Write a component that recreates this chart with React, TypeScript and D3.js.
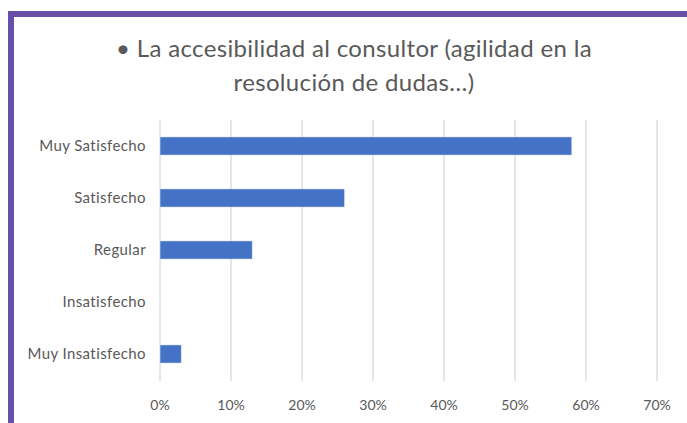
import { useEffect, useRef } from 'react'
import * as d3 from 'd3'

const categories = ['Muy Satisfecho', 'Satisfecho', 'Regular', 'Insatisfecho', 'Muy Insatisfecho']
const values = [0.58, 0.26, 0.13, 0, 0.03]
const ticks = [0, 0.1, 0.2, 0.3, 0.4, 0.5, 0.6, 0.7]
const titleLines = ['• La accesibilidad al consultor (agilidad en la', 'resolución de dudas…)']

export default function App() {
  const svgRef = useRef<SVGSVGElement>(null)

  useEffect(() => {
    const width = 687
    const height = 423
    const svg = d3.select(svgRef.current)
    svg.selectAll('*').remove()
    svg.attr('width', width).attr('height', height)

    const font = 'Lato, "Open Sans", sans-serif'
    const grey = '#595959'

    svg.append('rect').attr('width', width).attr('height', height).attr('fill', '#fff')

    // purple frame (top + left)
    svg.append('rect').attr('x', 8).attr('y', 11).attr('width', width - 8).attr('height', 6).attr('fill', '#6a4fa8')
    svg.append('rect').attr('x', 8).attr('y', 11).attr('width', 6).attr('height', height - 11).attr('fill', '#6a4fa8')

    // title
    svg.append('g')
      .selectAll('text')
      .data(titleLines)
      .enter()
      .append('text')
      .attr('x', 354)
      .attr('y', (d, i) => 57 + i * 34)
      .attr('text-anchor', 'middle')
      .attr('font-family', font)
      .attr('font-size', '24px')
      .attr('letter-spacing', '0.35px')
      .attr('fill', grey)
      .text(d => d)

    const x = d3.scaleLinear().domain([0, 0.7]).range([160, 657])
    const y = d3.scaleBand().domain(categories).range([120, 380]).paddingInner(0.65).paddingOuter(0.325)

    // gridlines
    svg.append('g')
      .selectAll('line')
      .data(ticks)
      .enter()
      .append('line')
      .attr('x1', d => x(d))
      .attr('x2', d => x(d))
      .attr('y1', 120)
      .attr('y2', 381)
      .attr('stroke', '#d9d9d9')
      .attr('stroke-width', 1.3)

    // bars
    svg.append('g')
      .selectAll('rect')
      .data(categories)
      .enter()
      .append('rect')
      .attr('x', x(0))
      .attr('y', d => y(d) || 0)
      .attr('width', (d, i) => x(values[i]) - x(0))
      .attr('height', y.bandwidth())
      .attr('fill', '#4472c4')
      .attr('stroke', '#ffffff')
      .attr('stroke-opacity', 0.6)
      .attr('stroke-width', 0.8)

    // category labels
    svg.append('g')
      .selectAll('text')
      .data(categories)
      .enter()
      .append('text')
      .attr('x', 146)
      .attr('y', d => (y(d) || 0) + y.bandwidth() / 2)
      .attr('dy', '0.35em')
      .attr('text-anchor', 'end')
      .attr('font-family', font)
      .attr('font-size', '15px')
      .attr('letter-spacing', '0.4px')
      .attr('fill', grey)
      .text(d => d)

    // tick labels
    svg.append('g')
      .selectAll('text')
      .data(ticks)
      .enter()
      .append('text')
      .attr('x', d => x(d))
      .attr('y', 410)
      .attr('text-anchor', 'middle')
      .attr('font-family', font)
      .attr('font-size', '14px')
      .attr('fill', grey)
      .text(d => d3.format('.0%')(d))
  }, [])

  return (
    <div style={{ position: 'absolute', left: 0, top: 0 }}>
      <svg ref={svgRef} style={{ display: 'block' }}></svg>
    </div>
  )
}
